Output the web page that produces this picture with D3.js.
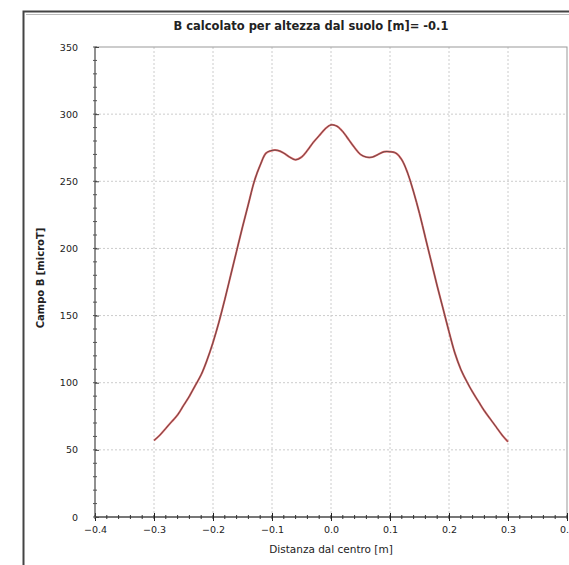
<!DOCTYPE html>
<html>
<head>
<meta charset="utf-8">
<script src="https://cdn.jsdelivr.net/npm/d3@7"></script>
<style>
  body { margin: 0; background: #fff; }
  text { font-family: "DejaVu Sans", Verdana, sans-serif; fill: #222; }
</style>
</head>
<body>
<script>
var w = 569, h = 565;
var margin = {top: 47, right: 2, bottom: 48, left: 95};

// distance from centre [m]
var xs = [-0.30, -0.29, -0.28, -0.27, -0.26, -0.25, -0.24, -0.23, -0.22, -0.21,
          -0.20, -0.19, -0.18, -0.17, -0.16, -0.15, -0.14, -0.13, -0.12, -0.11,
          -0.10, -0.09, -0.08, -0.07, -0.06, -0.05, -0.04, -0.03, -0.02, -0.01,
           0.00,  0.01,  0.02,  0.03,  0.04,  0.05,  0.06,  0.07,  0.08,  0.09,
           0.10,  0.11,  0.12,  0.13,  0.14,  0.15,  0.16,  0.17,  0.18,  0.19,
           0.20,  0.21,  0.22,  0.23,  0.24,  0.25,  0.26,  0.27,  0.28,  0.29, 0.30];
// field B [microT]
var bs = [57, 61, 66, 71, 76, 83, 90, 98, 106, 117,
          130, 145, 162, 180, 198, 216, 233, 250, 262, 271,
          273, 273, 271, 268, 266, 268, 273, 279, 284, 289,
          292, 291, 287, 281, 275, 270, 268, 268, 270, 272,
          272, 271, 266, 256, 242, 226, 208, 190, 172, 155,
          138, 122, 110, 101, 93, 86, 79, 73, 67, 61, 56];

var xTicks = [-0.4, -0.3, -0.2, -0.1, 0.0, 0.1, 0.2, 0.3, 0.4];
var yTicks = [0, 50, 100, 150, 200, 250, 300, 350];

var title = "B calcolato per altezza dal suolo [m]= -0.1";
var xTitle = "Distanza dal centro [m]";
var yTitle = "Campo B [microT]";

var width = w - margin.left - margin.right;
var height = h - margin.top - margin.bottom;

var x = d3.scaleLinear().domain([-0.4, 0.4]).range([0, width]);
var y = d3.scaleLinear().domain([0, 350]).range([height, 0]);

var svg = d3.select("body").append("svg")
  .attr("width", w)
  .attr("height", h);

// outer frame
svg.append("path")
  .attr("d", "M23.5,570 V11.5 H575")
  .attr("fill", "none")
  .attr("stroke", "#444")
  .attr("stroke-width", 2);
svg.append("line")
  .attr("x1", 26).attr("x2", 575).attr("y1", 14.5).attr("y2", 14.5)
  .attr("stroke", "#bbb");

svg.append("text")
  .attr("x", 311).attr("y", 30)
  .attr("text-anchor", "middle")
  .style("font-size", "11.5px").style("font-weight", "bold")
  .text(title);

var chart = svg.append("g")
  .attr("transform", "translate(" + margin.left + "," + margin.top + ")");

// dotted grid
chart.selectAll(".gx").data(xTicks.slice(1, -1)).enter().append("line")
  .attr("x1", d => x(d)).attr("x2", d => x(d))
  .attr("y1", 0).attr("y2", height)
  .attr("stroke", "#ccc").attr("stroke-dasharray", "2,2");
chart.selectAll(".gy").data(yTicks.slice(1, -1)).enter().append("line")
  .attr("x1", 0).attr("x2", width)
  .attr("y1", d => y(d)).attr("y2", d => y(d))
  .attr("stroke", "#ccc").attr("stroke-dasharray", "2,2");

// plot box
chart.append("rect")
  .attr("width", width).attr("height", height)
  .attr("fill", "none").attr("stroke", "#999");

// axes with minor ticks
var xMinor = d3.range(-0.4, 0.4001, 0.02);
var yMinor = d3.range(0, 350.1, 10);

var gx = chart.append("g").attr("transform", "translate(0," + height + ")");
gx.append("line").attr("x2", width).attr("stroke", "#222");
gx.selectAll(".mt").data(xMinor).enter().append("line")
  .attr("x1", d => x(d)).attr("x2", d => x(d))
  .attr("y1", -2).attr("y2", 2).attr("stroke", "#333");
gx.call(d3.axisBottom(x).tickValues(xTicks).tickSize(4).tickFormat(d3.format(".1f")))
  .call(g => g.select(".domain").remove())
  .call(g => g.selectAll(".tick line").attr("y1", -4).attr("stroke", "#222"))
  .call(g => g.selectAll(".tick text").attr("dy", "0.9em").style("font-size", "9.5px")
    .style("font-family", "DejaVu Sans, Verdana, sans-serif").attr("fill", "#333"));

var gy = chart.append("g");
gy.append("line").attr("y2", height).attr("stroke", "#555");
gy.selectAll(".mt").data(yMinor).enter().append("line")
  .attr("y1", d => y(d)).attr("y2", d => y(d))
  .attr("x1", -2).attr("x2", 2).attr("stroke", "#555");
gy.call(d3.axisLeft(y).tickValues(yTicks).tickSize(4).tickPadding(13))
  .call(g => g.select(".domain").remove())
  .call(g => g.selectAll(".tick line").attr("x2", 4).attr("stroke", "#444"))
  .call(g => g.selectAll(".tick text").style("font-size", "9.5px")
    .style("font-family", "DejaVu Sans, Verdana, sans-serif").attr("fill", "#333"));

// the curve
var pts = xs.map((d, i) => [d, bs[i]]);
var line = d3.line()
  .x(d => x(d[0]))
  .y(d => y(d[1]))
  .curve(d3.curveCatmullRom);

chart.append("path")
  .datum(pts)
  .attr("d", line)
  .attr("fill", "none")
  .attr("stroke", "#e06060")
  .attr("stroke-width", 2);
chart.append("path")
  .datum(pts)
  .attr("d", line)
  .attr("fill", "none")
  .attr("stroke", "#6a4a4a")
  .attr("stroke-width", 1);

// axis titles
svg.append("text")
  .attr("x", 331).attr("y", 553)
  .attr("text-anchor", "middle")
  .style("font-size", "10.5px")
  .text(xTitle);
svg.append("text")
  .attr("transform", "translate(44,278) rotate(-90)")
  .attr("text-anchor", "middle")
  .style("font-size", "10px").style("font-weight", "bold")
  .text(yTitle);
</script>
</body>
</html>
